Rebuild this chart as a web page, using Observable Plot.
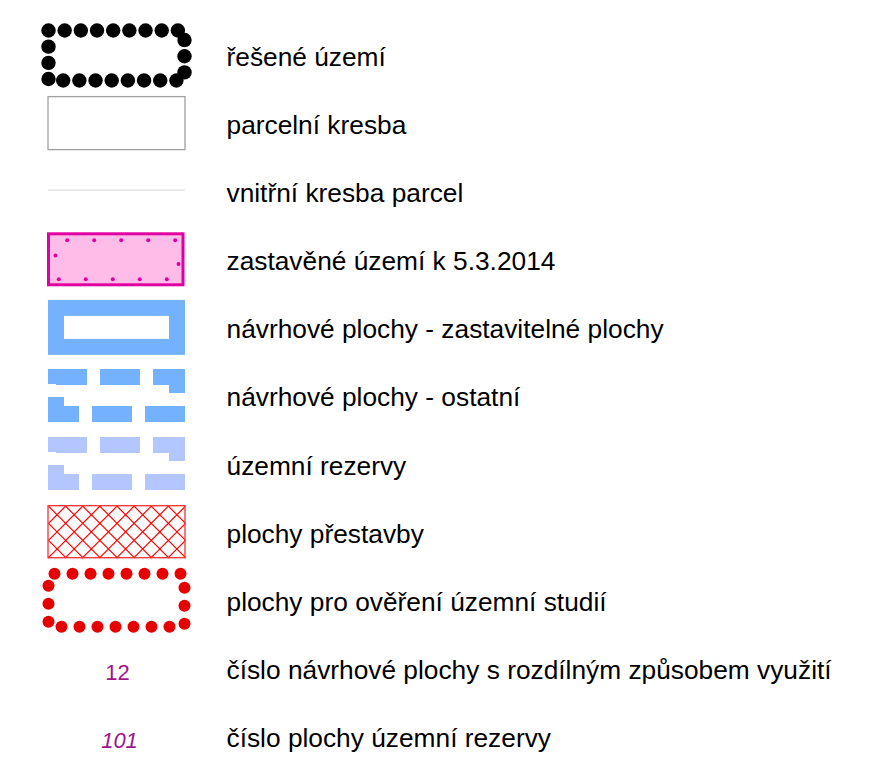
<!DOCTYPE html>
<html>
<head>
<meta charset="utf-8">
<script src="https://cdn.jsdelivr.net/npm/d3@7"></script>
<script src="https://cdn.jsdelivr.net/npm/@observablehq/plot@0.6"></script>
<style>
  html, body { margin: 0; padding: 0; background: #ffffff; }
  #chart svg { display: block; }
</style>
</head>
<body>
<div id="chart"></div>
<script>
// ---- data ----
const labels = [
  "řešené území",
  "parcelní kresba",
  "vnitřní kresba parcel",
  "zastavěné území k 5.3.2014",
  "návrhové plochy - zastavitelné plochy",
  "návrhové plochy - ostatní",
  "územní rezervy",
  "plochy přestavby",
  "plochy pro ověření územní studií",
  "číslo návrhové plochy s rozdílným způsobem využití",
  "číslo plochy územní rezervy"
];
const symbols = [
  "boundaryDots", "parcelOutline", "parcelInner", "builtUp", "proposedFrame",
  "proposedOther", "reserve", "redevelopment", "studyDots", "proposedNumber", "reserveNumber"
];
const numberLabels = ["12", "101"];

// ---- layout helpers ----
const W = 872, H = 765;
const rowY = i => 55 + 68.1 * i;
const row = name => symbols.indexOf(name);
const SX0 = 48, SX1 = 185;

// points evenly spaced along a rectangle perimeter (clockwise from top-left)
function perimeterPoints(x0, y0, x1, y1, n, offset = 0) {
  const w = x1 - x0, h = y1 - y0, P = 2 * (w + h);
  const pts = [];
  for (let k = 0; k < n; ++k) {
    let s = ((offset + k * P / n) % P + P) % P;
    if (s < w) pts.push({x: x0 + s, y: y0});
    else if ((s -= w) < h) pts.push({x: x1, y: y0 + s});
    else if ((s -= h) < w) pts.push({x: x1 - s, y: y1});
    else { s -= w; pts.push({x: x0, y: y1 - s}); }
  }
  return pts;
}

// 45° cross-hatch segments clipped to a rectangle
function hatch(x0, y0, x1, y1, step) {
  const h = y1 - y0, segs = [];
  const kMin = -Math.ceil(h / step) - 1, kMax = Math.ceil((x1 - x0) / step) + Math.ceil(h / step) + 1;
  for (let k = kMin; k <= kMax; ++k) {
    const c = x0 + k * step;
    let a = Math.max(x0, c), b = Math.min(x1, c + h);
    if (b - a > 0.01) segs.push({x1: a, y1: y0 + a - c, x2: b, y2: y0 + b - c});
    a = Math.max(x0, c - h); b = Math.min(x1, c);
    if (b - a > 0.01) segs.push({x1: a, y1: y0 + c - a, x2: b, y2: y0 + c - b});
  }
  return segs;
}

const font = "'Liberation Sans', Arial, Helvetica, sans-serif";

const yB = rowY(row("boundaryDots"));
const boundaryDots = perimeterPoints(SX0, yB - 25, 184, yB + 25, 23, 0);

const yP = rowY(row("parcelOutline"));
const yI = rowY(row("parcelInner"));

const yU = rowY(row("builtUp"));
const builtDots = perimeterPoints(55, yU - 19.5, 178, yU + 19.5, 12, 11.7);

const yF = rowY(row("proposedFrame"));
const yO = rowY(row("proposedOther"));
const yR = rowY(row("reserve"));
const yH = rowY(row("redevelopment"));
const hatchSegs = hatch(SX0, yH - 26, SX0 + 137, yH + 26, 17.125);

const yS = rowY(row("studyDots"));
const studyDots = perimeterPoints(SX0, yS - 26.5, 184, yS + 26.5, 21, 6);

const chart = Plot.plot({
  width: W,
  height: H,
  margin: 0,
  x: {domain: [0, W], range: [0, W], axis: null},
  y: {domain: [0, H], range: [0, H], axis: null},
  style: {background: "#ffffff", overflow: "visible"},
  marks: [
    Plot.dot(boundaryDots, {x: "x", y: "y", r: 7.2, fill: "#000000", stroke: null}),
    Plot.rect([0], {x1: SX0, x2: SX1, y1: yP - 26.5, y2: yP + 26.5, fill: "#ffffff", stroke: "#a0a0a0", strokeWidth: 1.3}),
    Plot.ruleY([yI - 1.5], {x1: SX0, x2: SX1, stroke: "#e0e0e0", strokeWidth: 1.3}),
    Plot.rect([0], {x1: 48.5, x2: 183, y1: yU - 25.5, y2: yU + 25.5, fill: "#ffbce8", stroke: "#e000a0", strokeWidth: 3}),
    Plot.dot(builtDots, {x: "x", y: "y", r: 2, fill: "#e000a0", stroke: null}),
    Plot.rect([0], {x1: 56, x2: 177, y1: yF - 19.5, y2: yF + 19.5, fill: "none", stroke: "#74b2ff", strokeWidth: 16}),
    Plot.rect([0], {x1: 56, x2: 177, y1: yO - 18.5, y2: yO + 18.5, fill: "none", stroke: "#74b2ff", strokeWidth: 16, strokeDasharray: "40 13", strokeDashoffset: 9}),
    Plot.rect([0], {x1: 56, x2: 177, y1: yR - 18.5, y2: yR + 18.5, fill: "none", stroke: "#b4c6ff", strokeWidth: 16, strokeDasharray: "40 13", strokeDashoffset: 9}),
    Plot.link(hatchSegs, {x1: "x1", y1: "y1", x2: "x2", y2: "y2", stroke: "#ff0000", strokeWidth: 1.2}),
    Plot.rect([0], {x1: SX0, x2: SX0 + 137, y1: yH - 26, y2: yH + 26, fill: "none", stroke: "#ff3030", strokeWidth: 1.3}),
    Plot.dot(studyDots, {x: "x", y: "y", r: 6, fill: "#e60000", stroke: null}),
    Plot.text(numberLabels.slice(0, 1), {x: 117, y: rowY(row("proposedNumber")) + 4.5, text: d => d, fontSize: 22, fontFamily: font, fill: "#a0148c"}),
    Plot.text(numberLabels.slice(1), {x: 119, y: rowY(row("reserveNumber")) + 4.5, text: d => d, fontSize: 22, fontFamily: font, fontStyle: "italic", fill: "#a0148c"}),
    Plot.text(labels, {x: 226, y: (d, i) => rowY(i) + 2, text: d => d, textAnchor: "start", fontSize: 26.3, fontFamily: font, fill: "#000000"})
  ]
});

document.getElementById("chart").appendChild(chart);
</script>
</body>
</html>
